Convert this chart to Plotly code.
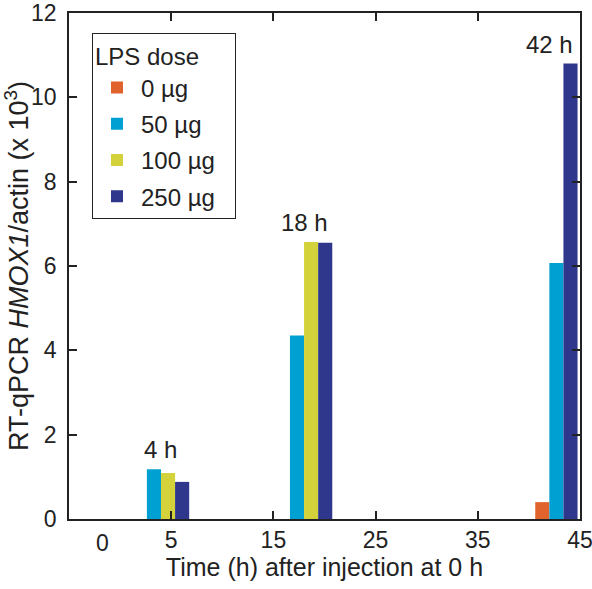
import plotly.graph_objects as go

times = [4, 18, 42]
time_labels = ["4 h", "18 h", "42 h"]
doses = ["0 µg", "50 µg", "100 µg", "250 µg"]
vals_0 = [0.0, 0.0, 0.40]
vals_50 = [1.18, 4.35, 6.07]
vals_100 = [1.09, 6.57, 0.0]
vals_250 = [0.88, 6.55, 10.80]
# slot index of each bar within its time group (the 42 h group is shifted by one slot in the original)
slots_0 = [0, 0, 1]
slots_50 = [1, 1, 2]
slots_100 = [2, 2, 3]
slots_250 = [3, 3, 3]
colors = ["#E0622C", "#00A0D3", "#D3D23A", "#2E378C"]
xtick_vals = [5, 15, 25, 35, 45]
ytick_vals = [0, 2, 4, 6, 8, 10, 12]

W = 1.38
FONT = "Liberation Sans, Arial, sans-serif"
TXT = "#222222"

fig = go.Figure()
for name, vals, slots, col in zip(doses, [vals_0, vals_50, vals_100, vals_250],
                                   [slots_0, slots_50, slots_100, slots_250], colors):
    fig.add_trace(go.Bar(
        x=times, y=vals, name=name, width=W,
        offset=[(-2 + s) * W for s in slots],
        marker=dict(color=col, line=dict(width=0)),
        legendgroup=name,
    ))

group_max = [max(a, b, c, d) for a, b, c, d in zip(vals_0, vals_50, vals_100, vals_250)]
for t, lab, m in zip(times, time_labels, group_max):
    fig.add_annotation(x=t, y=m, text=lab, showarrow=False, yanchor="bottom",
                       yshift=4, font=dict(size=24, color=TXT, family=FONT))

# "0" label on the x axis (no tick mark in the original)
fig.add_annotation(x=-1.7, y=0, xref="x", yref="paper", text="0", showarrow=False,
                   yanchor="top", yshift=-9, font=dict(size=23, color=TXT, family=FONT))

fig.update_layout(
    width=592, height=589,
    margin=dict(l=69, r=12, t=13, b=70),
    plot_bgcolor="white", paper_bgcolor="white",
    barmode="overlay",
    font=dict(family=FONT, size=23, color=TXT),
    showlegend=True,
    legend=dict(
        title=dict(text="LPS dose&nbsp;&nbsp;&nbsp;&nbsp;&nbsp;", font=dict(size=24)),
        x=0.045, y=0.96, xanchor="left", yanchor="top",
        bordercolor=TXT, borderwidth=1, bgcolor="white",
        font=dict(size=24), traceorder="grouped", tracegroupgap=2, itemwidth=38,
    ),
    xaxis=dict(
        range=[-5, 45], tickvals=xtick_vals, ticks="inside", ticklen=8, tickwidth=1.5,
        tickcolor=TXT, showline=True, linecolor=TXT, linewidth=1.5, mirror="ticks",
        showgrid=False, zeroline=False, tickfont=dict(size=23), automargin=False,
        ticklabeloverflow="allow",
        title=dict(text="Time (h) after injection at 0 h", font=dict(size=25), standoff=2),
    ),
    yaxis=dict(
        range=[0, 12], tickvals=ytick_vals, ticks="inside", ticklen=8, tickwidth=1.5,
        tickcolor=TXT, showline=True, linecolor=TXT, linewidth=1.5, mirror="ticks",
        showgrid=False, zeroline=False, tickfont=dict(size=23), automargin=False,
        ticklabeloverflow="allow", ticklabelstandoff=6,
        title=dict(text="RT-qPCR <i>HMOX1</i>/actin (x 10<sup>3</sup>)", font=dict(size=27), standoff=0),
    ),
)

fig.write_html("out.html", config={"displayModeBar": False},
               post_script="document.body.style.margin='0';")
